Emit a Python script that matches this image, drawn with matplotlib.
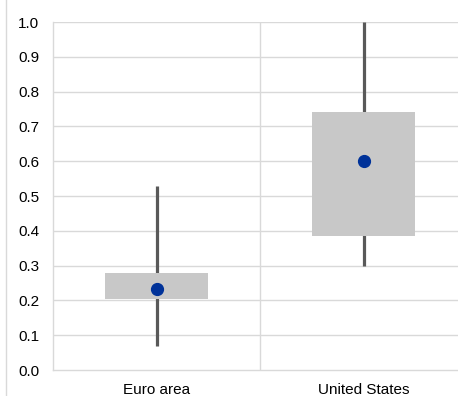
import matplotlib
matplotlib.use("Agg")
import matplotlib.pyplot as plt
from matplotlib.lines import Line2D

categories = ["Euro area", "United States"]
whisker_low = [0.07, 0.30]
whisker_high = [0.53, 1.0]
box_low = [0.204, 0.385]
box_high = [0.279, 0.742]
point = [0.233, 0.60]
yticks = [0.0, 0.1, 0.2, 0.3, 0.4, 0.5, 0.6, 0.7, 0.8, 0.9, 1.0]

plt.rcParams['font.family'] = ['Liberation Sans', 'DejaVu Sans']

W, H = 458, 396
fig = plt.figure(figsize=(W/100, H/100), dpi=100)
left, right, top, bottom = 53, 467, 22, 370
ax = fig.add_axes([left/W, 1 - bottom/H, (right-left)/W, (bottom-top)/H])

x = list(range(len(categories)))
ax.set_xlim(-0.5, len(categories) - 0.5)
ax.set_ylim(0, 1.0)

for v in yticks[1:]:
    ax.axhline(v, color='#d9d9d9', lw=1, zorder=0)
ax.axvline(0.5, color='#d9d9d9', lw=1, zorder=0)

ax.vlines(x, whisker_low, whisker_high, color='#595959', lw=2.3, zorder=2)
ax.bar(x, [h - l for h, l in zip(box_high, box_low)], bottom=box_low, width=0.5,
       color='#c8c8c8', zorder=3)
ax.plot(x, point, 'o', color='#003299', ms=8.5, zorder=4, clip_on=False)

ax.set_yticks(yticks)
ax.set_yticklabels([f"{v:.1f}" for v in yticks])
ax.set_xticks(x)
ax.set_xticklabels(categories)
ax.tick_params(axis='both', length=0, labelsize=11, colors='#000000')
ax.tick_params(axis='y', pad=10)
ax.tick_params(axis='x', pad=9)
for s in ['top', 'right']:
    ax.spines[s].set_visible(False)
for s in ['left', 'bottom']:
    ax.spines[s].set_color('#d9d9d9')
    ax.spines[s].set_linewidth(1)

fig.add_artist(Line2D([5.5/W, 5.5/W], [0, 1], color='#d9d9d9', lw=1))

fig.savefig("out.png", dpi=100)
